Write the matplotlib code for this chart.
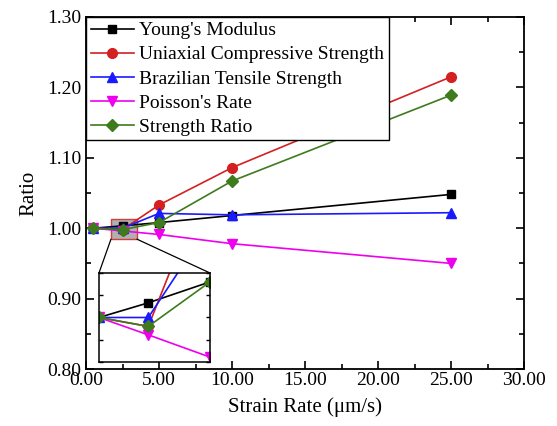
import matplotlib
matplotlib.use("Agg")
import matplotlib.pyplot as plt
from matplotlib.patches import Rectangle, ConnectionPatch
from matplotlib.ticker import MultipleLocator, FormatStrFormatter

plt.rcParams['font.family'] = ['Liberation Serif', 'DejaVu Serif']

# strain rates (um/s) and normalised ratios
strain_rate = [0.5, 2.5, 5, 10, 25]
youngs = [1.000, 1.0033, 1.008, 1.018, 1.048]
ucs = [1.000, 0.998, 1.033, 1.086, 1.215]
bts = [1.000, 1.000, 1.021, 1.019, 1.022]
poisson = [1.000, 0.9961, 0.9911, 0.978, 0.950]
strength_ratio = [1.000, 0.998, 1.008, 1.067, 1.189]

series = [
    ("Young's Modulus", youngs, "black", "s", 6),
    ("Uniaxial Compressive Strength", ucs, "#d42020", "o", 7),
    ("Brazilian Tensile Strength", bts, "#1a1aff", "^", 7),
    ("Poisson's Rate", poisson, "#ee00ee", "v", 7),
    ("Strength Ratio", strength_ratio, "#3d7b1d", "D", 6),
]

fig = plt.figure(figsize=(5.57, 4.26), dpi=100)
ax = fig.add_axes([0.1544, 0.1338, 0.7864, 0.8263])

for name, vals, col, mk, ms in series:
    ax.plot(strain_rate, vals, color=col, marker=mk, markersize=ms, lw=1.2,
            label=name, zorder=3)

ax.set_xlim(0, 30)
ax.set_ylim(0.80, 1.30)
ax.xaxis.set_major_locator(MultipleLocator(5))
ax.xaxis.set_minor_locator(MultipleLocator(2.5))
ax.yaxis.set_major_locator(MultipleLocator(0.1))
ax.yaxis.set_minor_locator(MultipleLocator(0.05))
ax.xaxis.set_major_formatter(FormatStrFormatter('%.2f'))
ax.yaxis.set_major_formatter(FormatStrFormatter('%.2f'))
ax.tick_params(which='both', direction='in', top=True, right=True, labelsize=14, width=1.2)
ax.tick_params(which='major', length=6)
ax.tick_params(which='minor', length=3.5)
ax.tick_params(axis='x', pad=2)
for sp in ax.spines.values():
    sp.set_linewidth(1.3)

ax.set_xlabel("Strain Rate (\u03bcm/s)", fontsize=15, labelpad=6)
ax.set_ylabel("Ratio", fontsize=15, labelpad=6)

leg = ax.legend(loc='upper left', borderaxespad=0, fancybox=False, framealpha=1,
                edgecolor='black', fontsize=14, handlelength=2.2, labelspacing=0.33,
                borderpad=0.25, handletextpad=0.3)
leg.get_frame().set_linewidth(1.0)
leg.set_zorder(5)

# highlighted region around the first points
ax.add_patch(Rectangle((1.71, 0.9844), 1.78, 0.0284, facecolor='#b0b0b0',
                       edgecolor='#d04040', lw=1.0, zorder=2))

# zoomed inset
axins = fig.add_axes([0.1777, 0.1502, 0.1993, 0.209])
for name, vals, col, mk, ms in series:
    axins.plot(strain_rate, vals, color=col, marker=mk, markersize=ms, lw=1.2)
axins.set_xlim(0.5, 5.0)
axins.set_ylim(0.990, 1.010)
axins.set_xticks([])
axins.yaxis.set_major_locator(MultipleLocator(0.005))
axins.tick_params(axis='y', direction='in', left=True, right=True, length=3,
                  labelleft=False, width=1.0)
for sp in axins.spines.values():
    sp.set_linewidth(1.1)

for xa, xb in [(1.71, 0), (3.49, 1)]:
    con = ConnectionPatch(xyA=(xa, 0.9844), coordsA='data', axesA=ax,
                          xyB=(xb, 1), coordsB='axes fraction', axesB=axins,
                          color='black', lw=0.9)
    fig.add_artist(con)

fig.savefig("out.png", dpi=100)
